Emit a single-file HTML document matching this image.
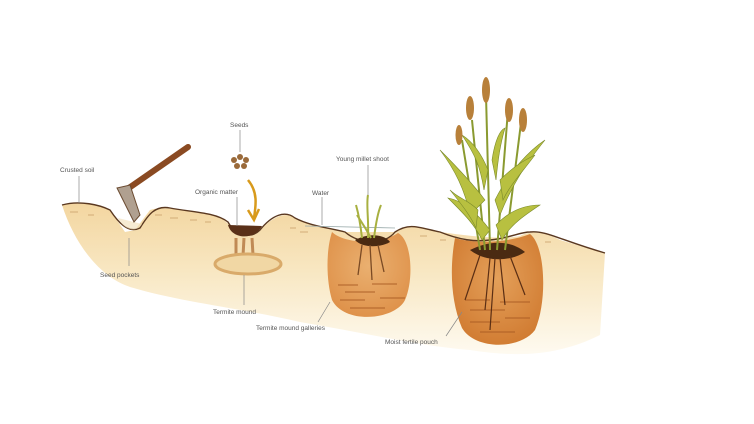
<!DOCTYPE html>
<html><head><meta charset="utf-8"><style>
html,body{margin:0;padding:0;background:#fff;width:754px;height:424px;overflow:hidden}
text{font-family:"Liberation Sans",sans-serif;font-size:6.5px;fill:#555}
</style></head><body>
<svg width="754" height="424" viewBox="0 0 754 424" xmlns="http://www.w3.org/2000/svg">
<defs>
<linearGradient id="soil" x1="0" y1="0" x2="0" y2="1">
<stop offset="0" stop-color="#f3d6a0"/><stop offset="0.45" stop-color="#f8e7c2"/><stop offset="1" stop-color="#fefaf0"/>
</linearGradient>
<radialGradient id="p1" cx="0.5" cy="0.4" r="0.65"><stop offset="0" stop-color="#eab070"/><stop offset="1" stop-color="#de9048"/></radialGradient>
<radialGradient id="p2" cx="0.5" cy="0.4" r="0.65"><stop offset="0" stop-color="#e4a05a"/><stop offset="1" stop-color="#d07a30"/></radialGradient>
<filter id="blur"><feGaussianBlur stdDeviation="4"/></filter>
</defs>
<!-- soil body -->
<path d="M62,205 C80,200 100,205 110,210 L125,232 L135,230 L150,210 C165,205 185,212 215,215 C225,218 230,228 240,232 L260,230 C275,215 285,212 295,218 C310,226 330,228 345,232 L395,232 C410,222 420,228 440,232 C470,236 500,240 520,236 C530,230 545,232 560,240 L605,253 L600,335 C560,355 520,358 470,350 C420,346 360,332 300,322 C240,308 180,302 130,287 C100,277 75,245 62,205 Z" fill="url(#soil)"/>
<!-- pouches -->
<path d="M332,232 C345,244 380,245 398,233 C412,240 414,280 405,300 C395,320 345,325 332,300 C326,280 326,250 332,232 Z" fill="url(#p1)"/>
<path d="M455,238 C470,243 505,244 530,234 C545,245 548,300 535,330 C520,350 475,350 462,328 C450,300 450,265 455,238 Z" fill="url(#p2)"/>
<!-- galleries -->
<g stroke="#a85a22" stroke-width="1.2" fill="none" opacity="0.7">
<path d="M338,285 h20 M345,292 h30 M340,300 h25 M372,284 h25 M380,298 h25 M350,308 h35"/>
<path d="M465,300 h25 M470,310 h35 M500,302 h30 M470,322 h30 M505,318 h25 M480,332 h35"/>
</g>
<!-- surface crust texture -->
<g stroke="#c9a06a" stroke-width="1" fill="none" opacity="0.8">
<path d="M70,212 h8 M88,215 h6 M155,215 h7 M170,218 h8 M190,220 h7 M205,222 h6 M290,228 h6 M300,232 h8 M420,236 h7 M440,240 h6 M545,242 h6"/>
</g>
<!-- surface line -->
<path d="M62,205 C80,200 100,205 110,210 C118,222 128,234 140,228 C148,215 155,205 170,208 C190,212 215,212 228,222 C235,235 250,240 260,230 C272,215 285,210 295,218 C310,226 330,228 345,232 C360,245 385,245 395,232 C410,222 420,228 440,232 C460,240 475,242 490,240 C510,238 520,232 530,232 C545,230 560,240 605,253" fill="none" stroke="#5a3820" stroke-width="1.4"/>
<!-- water -->
<path d="M305,226 L395,228" stroke="#9aa" stroke-width="0.8"/>
<!-- seed pocket -->
<path d="M118,218 C125,232 138,232 142,224" fill="#f0ddb5" opacity="0.6"/>
<!-- organic matter & termite mound -->
<path d="M228,225 C232,240 255,240 262,226 Z" fill="#5a3018"/>
<g stroke="#c08a55" stroke-width="3"><path d="M236,238 L236,255 M244,238 L243,256 M252,238 L253,255"/></g>
<ellipse cx="248" cy="264" rx="33" ry="10" fill="#f1d7a4" stroke="#d9aa6a" stroke-width="3"/>
<!-- seeds -->
<g fill="#9a6a3a"><circle cx="234" cy="160" r="3"/><circle cx="240" cy="157" r="3"/><circle cx="246" cy="160" r="3"/><circle cx="237" cy="166" r="3"/><circle cx="244" cy="166" r="3"/></g>
<path d="M248,180 C258,192 256,205 254,218" stroke="#d89a1c" stroke-width="2.5" fill="none"/>
<path d="M248,210 L254,220 L259,209" stroke="#d89a1c" stroke-width="2.5" fill="none"/>
<!-- hoe -->
<path d="M188,147 L126,190" stroke="#8a4a22" stroke-width="6" stroke-linecap="round"/>
<path d="M117,188 L130,185 L140,215 L134,222 Z" fill="#b0a090" stroke="#6a4a30" stroke-width="1"/>
<!-- young shoot -->
<path d="M355,240 C370,232 385,235 390,242 C380,248 362,248 355,240Z" fill="#4a2a12"/>
<g stroke="#a8b040" stroke-width="2" fill="none"><path d="M362,238 C360,220 358,212 356,205 M368,238 C369,220 366,205 368,195 M374,238 C376,222 378,212 381,205 M371,238 C364,225 360,220 357,215"/></g>
<g stroke="#7a4a24" stroke-width="1.3" fill="none"><path d="M362,245 L358,275 M370,245 L372,280 M378,245 L384,272"/></g>
<!-- millet -->
<path d="M470,250 C490,240 510,240 525,252 C510,262 485,262 470,250Z" fill="#4a2a12"/>
<g stroke="#5a2e14" stroke-width="1.2" fill="none"><path d="M480,255 L465,300 M490,258 L485,310 M500,258 L505,305 M510,256 L525,295 M495,258 L490,330"/></g>
<g stroke="#8a9a30" stroke-width="2" fill="none">
<path d="M472,120 L485,250 M486,95 L490,250 M508,110 L497,250 M522,115 L505,250 M462,140 L480,250"/>
</g>
<g fill="#b8c040" stroke="#7a8a2a" stroke-width="0.6">
<path d="M485,200 C470,180 450,160 440,150 C455,170 465,190 470,215Z"/>
<path d="M495,200 C510,170 530,150 545,140 C525,165 512,185 500,215Z"/>
<path d="M488,170 C480,150 470,140 462,135 C475,155 480,165 484,190Z"/>
<path d="M500,180 C515,165 525,160 535,155 C520,175 510,185 503,200Z"/>
<path d="M490,230 C475,210 460,200 448,198 C465,215 475,225 482,240Z"/>
<path d="M496,225 C510,210 525,205 540,205 C525,215 510,225 502,240Z"/>
<path d="M492,160 C495,140 500,130 505,128 C500,145 498,160 496,180Z"/>
<path d="M478,210 C468,200 458,198 450,190 C462,205 470,215 476,228Z"/>
</g>
<g fill="#b8803a"><ellipse cx="486" cy="90" rx="4" ry="13"/><ellipse cx="470" cy="108" rx="4" ry="12"/><ellipse cx="509" cy="110" rx="4" ry="12"/><ellipse cx="523" cy="120" rx="4" ry="12"/><ellipse cx="459" cy="135" rx="3.5" ry="10"/></g>
<!-- leader lines -->
<g stroke="#888" stroke-width="0.7">
<path d="M79,176 L79,203 M240,130 L240,152 M237,197 L237,226 M322,197 L322,225 M368,165 L368,195 M129,238 L129,266 M244,275 L244,305 M330,302 L318,322 M462,312 L446,336"/>
</g>
<text x="60" y="172">Crusted soil</text>
<text x="230" y="127">Seeds</text>
<text x="195" y="194">Organic matter</text>
<text x="312" y="195">Water</text>
<text x="336" y="161">Young millet shoot</text>
<text x="100" y="277">Seed pockets</text>
<text x="213" y="314">Termite mound</text>
<text x="256" y="330">Termite mound galleries</text>
<text x="385" y="344">Moist fertile pouch</text>
</svg>
</body></html>
